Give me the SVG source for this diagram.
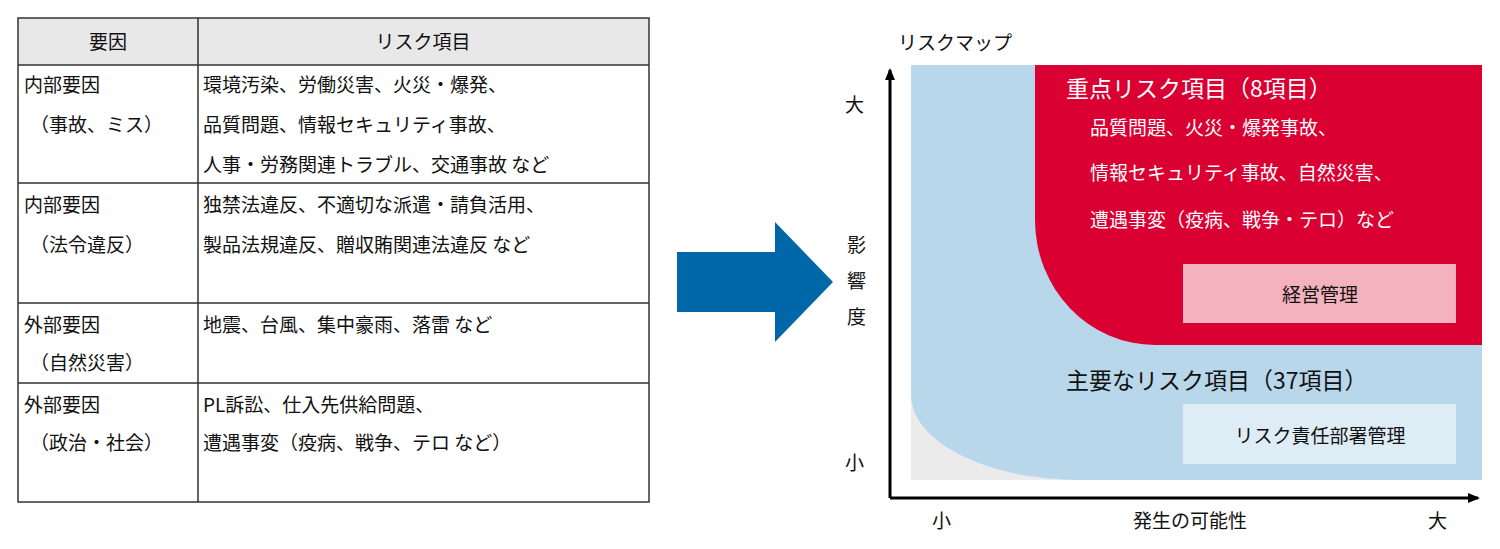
<svg xmlns="http://www.w3.org/2000/svg" width="1500" height="549" viewBox="0 0 1500 549">
<style>
text{font-family:"Noto Sans CJK JP","Noto Sans",sans-serif;font-size:19px;fill:#111}
.w{fill:#fff}
.t{font-size:23px}
.ln{stroke:#333;stroke-width:1.5;fill:none}
</style>
<defs><marker id="ah" markerWidth="12" markerHeight="10" refX="10" refY="5" orient="auto" markerUnits="userSpaceOnUse"><path d="M0,0L12,5L0,10z" fill="#000"/></marker></defs>
<rect width="1500" height="549" fill="#fff"/>
<g id="table">
<rect x="18" y="18" width="631" height="47" fill="#e8e8e8"/>
<rect x="18" y="18" width="631" height="484" class="ln"/>
<path class="ln" d="M198,18V502M18,65H649M18,183H649M18,303H649M18,383H649"/>
<text x="108" y="49" text-anchor="middle">要因</text>
<text x="423" y="49" text-anchor="middle">リスク項目</text>
<text x="24" y="92">内部要因</text><text x="30" y="132">（事故、ミス）</text>
<text x="203" y="92">環境汚染、労働災害、火災・爆発、</text>
<text x="203" y="132">品質問題、情報セキュリティ事故、</text>
<text x="203" y="172">人事・労務関連トラブル、交通事故 など</text>
<text x="24" y="212">内部要因</text><text x="30" y="252">（法令違反）</text>
<text x="203" y="212">独禁法違反、不適切な派遣・請負活用、</text>
<text x="203" y="252">製品法規違反、贈収賄関連法違反 など</text>
<text x="24" y="332">外部要因</text><text x="30" y="370">（自然災害）</text>
<text x="203" y="332">地震、台風、集中豪雨、落雷 など</text>
<text x="24" y="412">外部要因</text><text x="30" y="450">（政治・社会）</text>
<text x="203" y="412">PL訴訟、仕入先供給問題、</text>
<text x="203" y="450">遭遇事変（疫病、戦争、テロ など）</text>
</g>
<g id="arrow"><path d="M677,252H775V222L833,282L775,342V312H677z" fill="#0068a8"/></g>
<g id="map">
<rect x="911" y="65" width="571" height="415" fill="#ebebeb"/>
<path d="M911,65H1482V480H1080A169,85 0 0 1 911,395z" fill="#b8d7eb"/>
<path d="M1035,65H1482V345H1155A120,125 0 0 1 1035,220z" fill="#da0032"/>
<rect x="1183" y="264" width="273" height="59" fill="#f4b1be"/>
<rect x="1183" y="404" width="273" height="60" fill="#deecf6"/>
<text x="1066" y="97" class="w t">重点リスク項目（8項目）</text>
<text x="1090" y="135" class="w">品質問題、火災・爆発事故、</text>
<text x="1090" y="180" class="w">情報セキュリティ事故、自然災害、</text>
<text x="1090" y="227" class="w">遭遇事変（疫病、戦争・テロ）など</text>
<text x="1320" y="302" text-anchor="middle">経営管理</text>
<text x="1066" y="389" class="t">主要なリスク項目（37項目）</text>
<text x="1320" y="443" text-anchor="middle">リスク責任部署管理</text>
</g>
<g id="connectors">
<path d="M890,498V70" stroke="#000" stroke-width="3" marker-end="url(#ah)"/>
<path d="M890,498H1478" stroke="#000" stroke-width="3" marker-end="url(#ah)"/>
</g>
<g id="labels">
<text x="898" y="50">リスクマップ</text>
<text x="845" y="112">大</text>
<text x="847" y="252">影</text><text x="847" y="288">響</text><text x="847" y="324">度</text>
<text x="845" y="470">小</text>
<text x="932" y="528">小</text>
<text x="1190" y="528" text-anchor="middle">発生の可能性</text>
<text x="1428" y="528">大</text>
</g>
</svg>
